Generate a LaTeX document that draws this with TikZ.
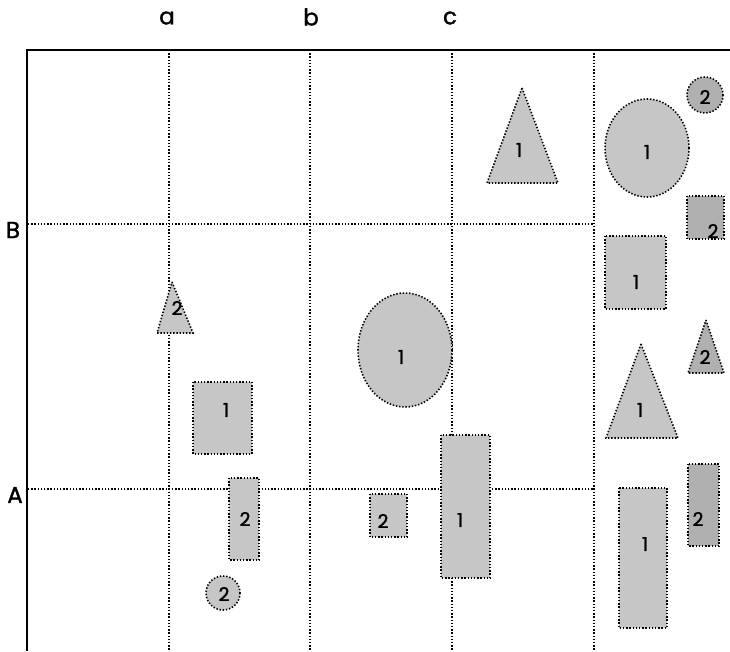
\documentclass[tikz,border=0pt]{standalone}
\usepackage{fontspec}
\setmainfont{Poppins}
\newfontfamily\lblfont{Poppins}[FakeBold=1.5]
\tikzset{
  dotline/.style={line width=1.6pt, dash pattern=on 1.4pt off 1.8pt},
  shp/.style={dotline, fill=gray!45},
  dshp/.style={dotline, fill=gray!62},
  lbl/.style={font=\lblfont\fontsize{19}{21}\selectfont, inner sep=0pt},
  axl/.style={font=\lblfont\fontsize{23}{25}\selectfont, inner sep=0pt}
}
\begin{document}
\begin{tikzpicture}[x=1pt,y=-1pt]
\useasboundingbox (0,0) rectangle (730,651);
% grid
\draw[dotline] (169,50) -- (169,651);
\draw[dotline] (310,50) -- (310,651);
\draw[dotline] (452,50) -- (452,651);
\draw[dotline] (594,50) -- (594,651);
\draw[dotline] (28,224) -- (594,224);
\draw[dotline] (28,489) -- (594,489);
\draw[line width=2.2pt] (27,651) -- (27,50) -- (730,50);
% axis labels
\node[axl] (la) at (167,18) {a};
\node[axl] (lb) at (311,17) {b};
\node[axl] (lc) at (450,18) {c};
\node[axl] (lB) at (13,230) {B};
\node[axl] (lA) at (15,495) {A};
% shapes
\draw[shp] (522,88) -- (558,183) -- (487,183) -- cycle;
\node[lbl] (t1) at (519,150) {1};
\draw[shp] (647,148) ellipse (42 and 49);
\node[lbl] (c1) at (647,152) {1};
\draw[dshp] (705,95) circle (18);
\node[lbl] (c2) at (705,97) {2};
\draw[dshp] (687,196) rectangle (724,239);
\node[lbl] (s2) at (713,231) {2};
\draw[shp] (605,236) rectangle (666,309);
\node[lbl] (r1) at (636,282) {1};
\draw[dshp] (706,320) -- (724,373) -- (688,373) -- cycle;
\node[lbl] (t2) at (705,357) {2};
\draw[shp] (641,344) -- (678,438) -- (606,438) -- cycle;
\node[lbl] (t1b) at (640,410) {1};
\draw[shp] (619,488) rectangle (667,628);
\node[lbl] (r1b) at (645,544) {1};
\draw[dshp] (688,464) rectangle (719,546);
\node[lbl] (r2b) at (698,519) {2};
\draw[shp] (441,435) rectangle (490,578);
\node[lbl] (r1c) at (460,520) {1};
\draw[shp] (370,494) rectangle (407,537);
\node[lbl] (s2c) at (383,521) {2};
\draw[shp] (405,350) ellipse (47 and 57);
\node[lbl] (c1c) at (401,357) {1};
\draw[shp] (172,282) -- (193,333) -- (157,333) -- cycle;
\node[lbl] (t2l) at (177,308) {2};
\draw[shp] (193,382) rectangle (252,454);
\node[lbl] (r1l) at (226,410) {1};
\draw[shp] (229,478) rectangle (259,560);
\node[lbl] (r2l) at (245,519) {2};
\draw[shp] (223,593) circle (17);
\node[lbl] (c2l) at (224,594) {2};
\end{tikzpicture}
\end{document}
